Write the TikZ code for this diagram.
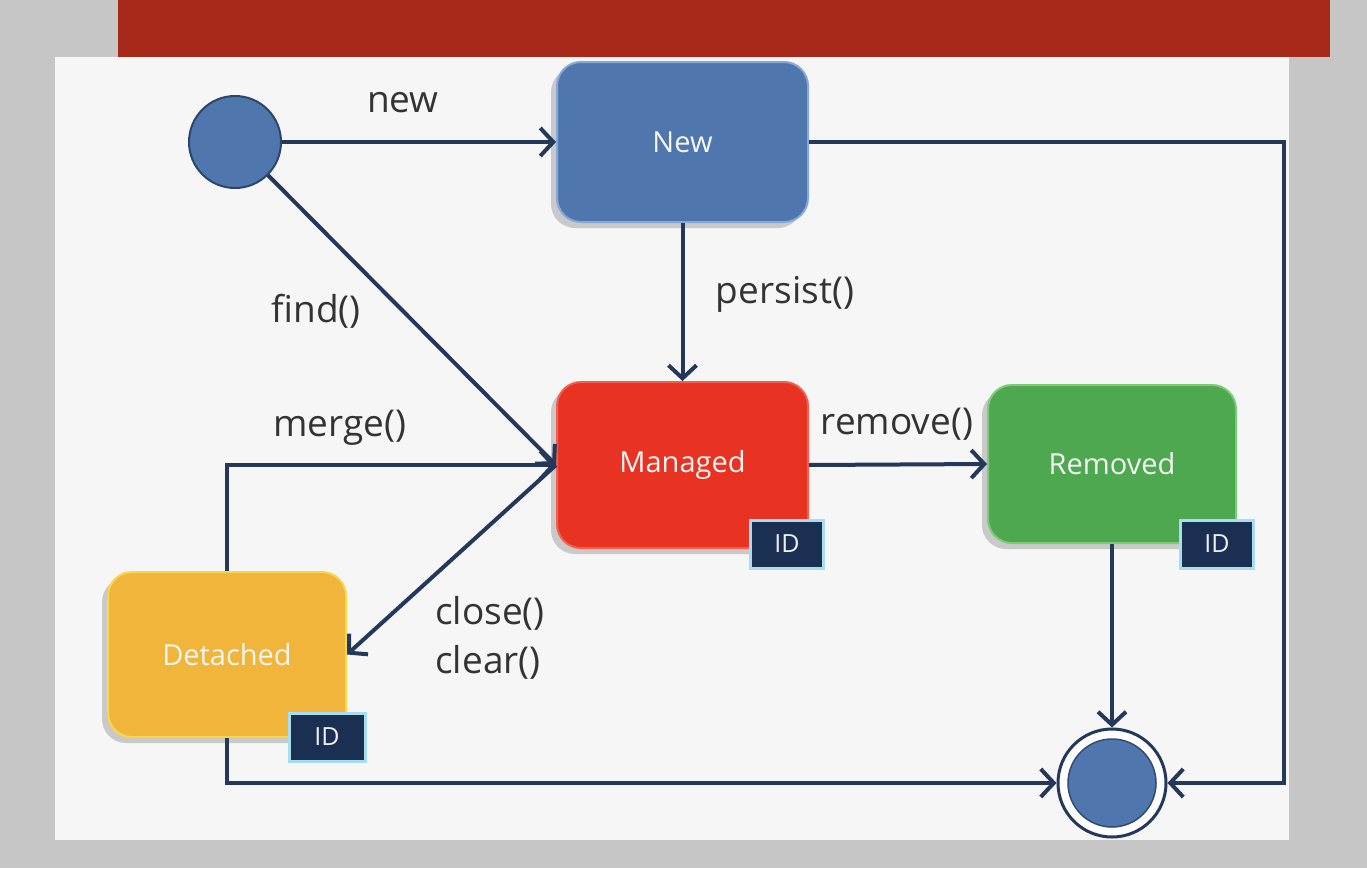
\documentclass[tikz,border=0pt]{standalone}
\usepackage{fontspec}
\setmainfont{Open Sans}
\usetikzlibrary{arrows.meta,shadows}
\definecolor{bggray}{HTML}{C6C6C6}
\definecolor{panel}{HTML}{F6F6F6}
\definecolor{band}{HTML}{A6291A}
\definecolor{navy}{HTML}{24385A}
\definecolor{stblue}{HTML}{4F77AD}
\definecolor{stblueb}{HTML}{86A8D6}
\definecolor{stred}{HTML}{E83323}
\definecolor{stredb}{HTML}{F06050}
\definecolor{stgreen}{HTML}{4EA84F}
\definecolor{stgreenb}{HTML}{7CCB7A}
\definecolor{storange}{HTML}{F2B53C}
\definecolor{storangeb}{HTML}{F7D84A}
\definecolor{idnavy}{HTML}{1B2F52}
\definecolor{idglow}{HTML}{A8DDF0}
\definecolor{txt}{HTML}{333333}
\tikzset{
  state/.style={rectangle, rounded corners=24pt, line width=2pt,
    text=white!92!gray, font=\fontsize{29}{34}\selectfont,
    drop shadow={shadow xshift=-6pt, shadow yshift=-6pt, opacity=0.18, fill=black}},
  idbox/.style={rectangle, fill=idnavy, draw=idglow, line width=3pt,
    text=white!88!gray, font=\fontsize{25}{30}\selectfont, minimum width=73pt, minimum height=48pt},
  conn/.style={draw=navy, line width=4pt, -{Straight Barb[length=13pt,width=28pt,line width=4pt]}},
  lbl/.style={text=txt, font=\fontsize{37}{44}\selectfont},
}
\begin{document}
\begin{tikzpicture}[x=1pt,y=-1pt]
\useasboundingbox (0,0) rectangle (1367,868);
\fill[bggray] (0,0) rectangle (1367,868);
\fill[panel] (55,57) rectangle (1289,840);
\fill[band] (118,0) rectangle (1330,57);

% states
\node[circle, fill=stblue, draw=navy!80!stblue, line width=2pt, minimum size=92pt] (init) at (235,142) {};
\node[state, fill=stblue, draw=stblueb, minimum width=251pt, minimum height=160pt] (new) at (682.5,142) {New};
\node[state, fill=stred, draw=stredb, minimum width=251pt, minimum height=166pt] (managed) at (682.5,465) {Managed};
\node[state, fill=stgreen, draw=stgreenb, minimum width=248pt, minimum height=158pt] (removed) at (1112,464) {Removed};
\node[state, fill=storange, draw=storangeb, minimum width=238pt, minimum height=165pt] (detached) at (227,654.5) {Detached};

\node[idbox] (idm) at (787,544) {ID};
\node[idbox] (idr) at (1217,544) {ID};
\node[idbox, minimum width=76pt] (idd) at (327,737) {ID};

\node[circle, fill=white, draw=navy, line width=3pt, minimum size=108pt] (final) at (1112,783) {};
\node[circle, fill=stblue, draw=navy!70!stblue, line width=1.5pt, minimum size=88pt] (finalin) at (final) {};

\coordinate (rc) at (1284,142);

% connectors
\draw[conn] (init) -- (new.west);
\draw[conn] (new.south) -- (managed.north);
\draw[conn] (init) -- (managed.west);
\draw[conn] (detached.north) |- (managed.west);
\draw[conn] (managed.west) -- (detached.east);
\draw[conn] (managed.east) -- (removed.west);
\draw[conn] (removed.south) -- (final.north);
\draw[conn] (new.east) -- (rc) |- (final.east);
\draw[conn] (detached.south) |- (final.west);

% labels
\node[lbl] (lnew) at (403,103) {new};
\node[lbl] (lpersist) at (785,294) {persist()};
\node[lbl] (lfind) at (316,311) {find()};
\node[lbl] (lmerge) at (340,428) {merge()};
\node[lbl] (lremove) at (897,424) {remove()};
\node[lbl] (lclose) at (490,613) {close()};
\node[lbl] (lclear) at (488,662) {clear()};
\end{tikzpicture}
\end{document}
